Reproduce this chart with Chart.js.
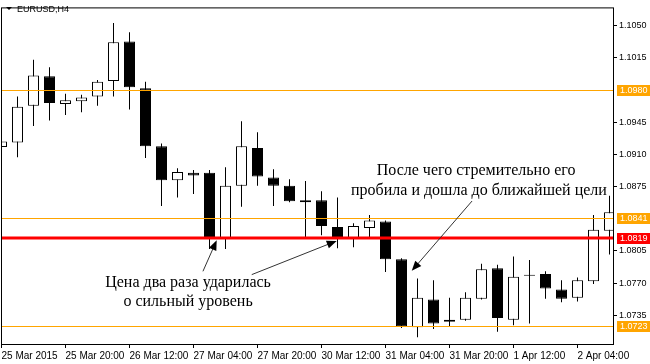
<!DOCTYPE html>
<html>
<head>
<meta charset="utf-8">
<script src="https://cdn.jsdelivr.net/npm/chart.js@4.4.1/dist/chart.umd.min.js"></script>
<style>
html,body{margin:0;padding:0;background:#fff;}
</style>
</head>
<body>
<canvas id="myChart" width="650" height="364"></canvas>
<script>
var symbol = 'EURUSD,H4';
// one label every 4 bars (H4 -> 16 hours)
var xLabels = ['25 Mar 2015','25 Mar 20:00','26 Mar 12:00','27 Mar 04:00','27 Mar 20:00',
               '30 Mar 12:00','31 Mar 04:00','31 Mar 20:00','1 Apr 12:00','2 Apr 04:00'];
var open  = [1.0918,1.0923,1.0963,1.0995,1.0965,1.0968,1.0973,1.0990,1.1033,1.0982,1.0919,1.0882,1.0890,1.0890,1.0819,1.0876,1.0917,1.0885,1.0876,1.0858,
             1.0860,1.0831,1.0819,1.0830,1.0837,1.0796,1.0722,1.0752,1.0728,1.0730,1.0753,1.0786,1.0730,1.0779,1.0780,1.0763,1.0754,1.0772,1.0827];
var high  = [1.0926,1.0973,1.1013,1.1005,1.0976,1.0975,1.0991,1.1053,1.1043,1.0989,1.0922,1.0895,1.0893,1.0893,1.0896,1.0946,1.0934,1.0894,1.0883,1.0881,
             1.0870,1.0863,1.0835,1.0844,1.0838,1.0797,1.0775,1.0773,1.0754,1.0760,1.0791,1.0790,1.0799,1.0795,1.0783,1.0773,1.0776,1.0844,1.0865];
var low   = [1.0916,1.0907,1.0941,1.0947,1.0953,1.0956,1.0963,1.0973,1.0959,1.0906,1.0854,1.0863,1.0867,1.0807,1.0807,1.0853,1.0876,1.0854,1.0858,1.0819,
             1.0822,1.0808,1.0809,1.0819,1.0782,1.0721,1.0711,1.0720,1.0723,1.0729,1.0752,1.0717,1.0724,1.0726,1.0753,1.0749,1.0750,1.0769,1.0801];
var close = [1.0924,1.0962,1.0996,1.0966,1.0969,1.0972,1.0989,1.1032,1.0983,1.0919,1.0882,1.0891,1.0887,1.0818,1.0876,1.0919,1.0886,1.0876,1.0859,1.0860,
             1.0832,1.0818,1.0832,1.0838,1.0796,1.0723,1.0754,1.0726,1.0730,1.0754,1.0785,1.0732,1.0777,1.0778,1.0764,1.0753,1.0773,1.0828,1.0847];
var yTicks = [1.1050,1.1015,1.0945,1.0910,1.0875,1.0805,1.0770,1.0735];
var levels = [1.0980,1.0841,1.0819,1.0723];
var levelColors = ['#ffa500','#ffa500','#ff0000','#ffa500'];

// text notes and arrows, anchored in (bar index, price)
var notes = [
  {text:'После чего стремительно его', x:29.66, y:1.08917},
  {text:'пробила и дошла до ближайшей цели', x:29.84, y:1.08703},
  {text:'Цена два раза ударилась', x:11.66, y:1.07699},
  {text:'о сильный уровень', x:11.66, y:1.07496}
];
var arrows = [
  {from:[12.59,1.07828], to:[13.45,1.08166]},
  {from:[15.64,1.07792], to:[20.95,1.08159]},
  {from:[29.41,1.08593], to:[25.64,1.07833]}
];

Chart.defaults.font.family = "'Liberation Sans',Arial,sans-serif";
Chart.defaults.font.size = 10;
Chart.defaults.color = '#000';

var bodies = open.map(function(o,i){ return {x:i, y:[Math.min(o,close[i]), Math.max(o,close[i])]}; });
var wicks = low.map(function(l,i){ return {x:i, y:[l, high[i]]}; });
var bodyColors = open.map(function(o,i){ return close[i] < o ? '#000' : '#fff'; });

var overlay = {
  id: 'overlay',
  afterDatasetsDraw: function(chart){
    var ctx = chart.ctx, a = chart.chartArea, xs = chart.scales.x, ys = chart.scales.y;
    ctx.save();
    // horizontal levels
    for (var i=0;i<levels.length;i++){
      var y = ys.getPixelForValue(levels[i]);
      ctx.strokeStyle = levelColors[i];
      ctx.lineWidth = levelColors[i]=='#ff0000' ? 3 : 1;
      if (ctx.lineWidth==1) y = Math.round(y)+0.5;
      ctx.beginPath(); ctx.moveTo(a.left, y); ctx.lineTo(a.right, y); ctx.stroke();
    }
    // arrows
    ctx.strokeStyle = '#333'; ctx.fillStyle = '#000'; ctx.lineWidth = 1;
    arrows.forEach(function(ar){
      var x1 = xs.getPixelForValue(ar.from[0]), y1 = ys.getPixelForValue(ar.from[1]);
      var x2 = xs.getPixelForValue(ar.to[0]), y2 = ys.getPixelForValue(ar.to[1]);
      var ang = Math.atan2(y2-y1, x2-x1);
      ctx.beginPath(); ctx.moveTo(x1,y1); ctx.lineTo(x2-8*Math.cos(ang), y2-8*Math.sin(ang)); ctx.stroke();
      ctx.beginPath();
      ctx.moveTo(x2,y2);
      ctx.lineTo(x2-10*Math.cos(ang)+4*Math.sin(ang), y2-10*Math.sin(ang)-4*Math.cos(ang));
      ctx.lineTo(x2-10*Math.cos(ang)-4*Math.sin(ang), y2-10*Math.sin(ang)+4*Math.cos(ang));
      ctx.closePath(); ctx.fill();
    });
    // notes
    ctx.font = "16px 'Liberation Serif', serif";
    ctx.textAlign = 'center'; ctx.textBaseline = 'middle'; ctx.fillStyle = '#000';
    notes.forEach(function(n){
      ctx.fillText(n.text, xs.getPixelForValue(n.x), ys.getPixelForValue(n.y));
    });
    ctx.restore();
  },
  afterDraw: function(chart){
    var ctx = chart.ctx, a = chart.chartArea, ys = chart.scales.y;
    ctx.save();
    // frame
    ctx.strokeStyle = '#000'; ctx.lineWidth = 1;
    ctx.strokeRect(a.left+0.5, a.top+0.5, a.right-a.left, a.bottom-a.top);
    // level price tags
    ctx.font = "9px 'Liberation Sans',Arial,sans-serif";
    ctx.textAlign = 'left'; ctx.textBaseline = 'middle';
    for (var i=0;i<levels.length;i++){
      var y = Math.round(ys.getPixelForValue(levels[i]));
      ctx.fillStyle = levelColors[i];
      ctx.fillRect(a.right+4, y-5, 650-a.right-4, 11);
      ctx.fillStyle = '#fff';
      ctx.fillText(levels[i].toFixed(4), a.right+7, y+0.5);
    }
    // title
    ctx.fillStyle = '#000';
    ctx.beginPath(); ctx.moveTo(6,7); ctx.lineTo(12,7); ctx.lineTo(9,10); ctx.closePath(); ctx.fill();
    ctx.font = "9px 'Liberation Sans',Arial,sans-serif";
    ctx.textBaseline = 'alphabetic';
    ctx.fillText(symbol, 17, 12);
    ctx.restore();
  }
};

var ctx = document.getElementById('myChart').getContext('2d');
var myChart = new Chart(ctx, {
  type: 'bar',
  data: {
    datasets: [{
      label: 'body',
      data: bodies,
      backgroundColor: bodyColors,
      borderColor: '#000',
      borderWidth: 1,
      borderSkipped: false,
      barThickness: 11,
      inflateAmount: 0,
      grouped: false
    },{
      label: 'wick',
      data: wicks,
      backgroundColor: '#000',
      borderWidth: 0,
      barThickness: 1,
      inflateAmount: 0,
      grouped: false
    }]
  },
  options: {
    responsive: false,
    animation: false,
    devicePixelRatio: 1,
    layout: { padding: { left: 1, top: 1, right: 0, bottom: 0 } },
    plugins: { legend: { display: false }, tooltip: { enabled: false } },
    scales: {
      x: {
        type: 'linear',
        offset: false,
        min: -0.03125,
        max: 38.21875,
        afterBuildTicks: function(s){ s.ticks = xLabels.map(function(l,i){ return {value: i*4}; }); },
        afterFit: function(s){ s.height = 20; s.paddingLeft = 0; s.paddingRight = 0; },
        ticks: {
          align: 'start',
          padding: 2,
          maxRotation: 0,
          autoSkip: false,
          font: { size: 10 },
          callback: function(v, i){ return xLabels[i]; }
        },
        grid: { drawOnChartArea: false, tickLength: 4, color: '#000', offset: false },
        border: { display: false }
      },
      y: {
        position: 'right',
        min: 1.07037,
        max: 1.10700,
        afterBuildTicks: function(s){ s.ticks = yTicks.map(function(v){ return {value: v}; }); },
        afterFit: function(s){ s.width = 37; },
        ticks: {
          padding: 2,
          font: { size: 9 },
          callback: function(v){ return v.toFixed(4); }
        },
        grid: { drawOnChartArea: false, tickLength: 4, color: '#000' },
        border: { display: false }
      }
    }
  },
  plugins: [overlay]
});
</script>
</body>
</html>
